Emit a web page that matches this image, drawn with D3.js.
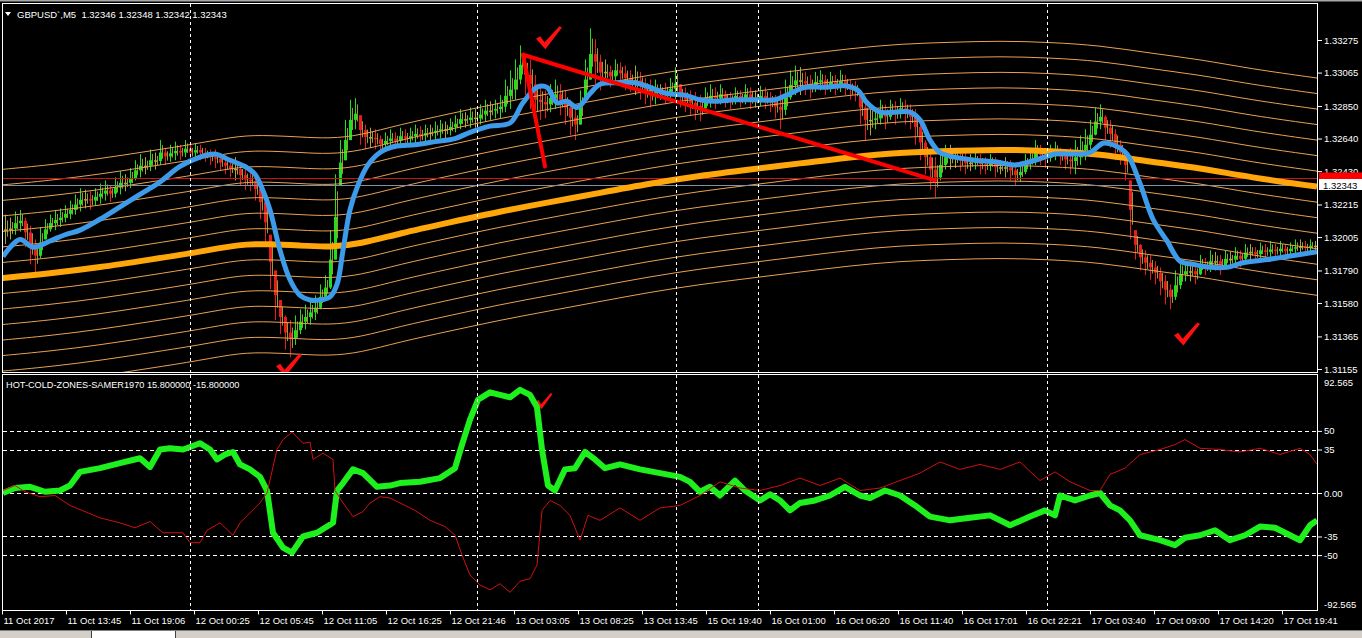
<!DOCTYPE html>
<html><head><meta charset="utf-8">
<script src="https://cdn.jsdelivr.net/npm/d3@7"></script>
<style>
body{margin:0;background:#000;overflow:hidden}
svg{display:block}
text{font-family:"Liberation Sans",Arial,sans-serif}
</style></head>
<body><svg id="c" width="1362" height="638"></svg>
<script>
// ---------- DATA ----------
const symbolTitle = "GBPUSD`,M5  1.32346 1.32348 1.32342 1.32343";
const oscTitle = "HOT-COLD-ZONES-SAMER1970 15.800000 -15.800000";

const timeTickBars = [2,66,130,194,258,322,386,450,514,578,642,706,770,834,898,962,1026,1090,1154,1218,1282];
const timeTickLabels = ["11 Oct 2017","11 Oct 13:45","11 Oct 19:06","12 Oct 00:25","12 Oct 05:45","12 Oct 11:05","12 Oct 16:25","12 Oct 21:46","13 Oct 03:05","13 Oct 08:25","13 Oct 13:45","15 Oct 19:40","16 Oct 01:00","16 Oct 06:20","16 Oct 11:40","16 Oct 17:01","16 Oct 22:21","17 Oct 03:40","17 Oct 09:00","17 Oct 14:20","17 Oct 19:41"];
const daySeparatorBars = [190,477,676,758,1047];

const priceTicks = [1.31155,1.31365,1.31580,1.31790,1.32005,1.32215,1.32430,1.32640,1.32850,1.33065,1.33275];
const oscTicks = [92.565,50,35,0,-35,-50,-92.565];
const oscLevels = [50,35,0,-35,-50];

const bidPrice = 1.32343;
const alertPrice = 1.32387;

// candles sampled every 5 bars starting at bar 5
const candleHigh = [
1.3215,1.3213,1.3217,1.3218,1.3213,1.3208,1.3199,1.3207,1.3212,1.3215,
1.3218,1.3219,1.3221,1.3224,1.3228,1.3232,1.3231,1.3230,1.3232,1.3235,
1.3237,1.3234,1.3239,1.3243,1.3241,1.3245,1.3250,1.3254,1.3252,1.3257,
1.3255,1.3263,1.3258,1.3260,1.3262,1.3260,1.3263,1.3260,1.3261,1.3260,
1.3258,1.3257,1.3257,1.3254,1.3252,1.3250,1.3252,1.3247,1.3244,1.3243,
1.3239,1.3234,1.3224,1.3202,1.3179,1.3160,1.3150,1.3147,1.3150,1.3154,
1.3157,1.3160,1.3163,1.3170,1.3176,1.3205,1.3241,1.3263,1.3276,1.3289,
1.3290,1.3279,1.3273,1.3271,1.3270,1.3266,1.3268,1.3270,1.3268,1.3271,
1.3270,1.3271,1.3273,1.3272,1.3273,1.3273,1.3275,1.3276,1.3275,1.3277,
1.3279,1.3283,1.3281,1.3284,1.3283,1.3286,1.3289,1.3288,1.3289,1.3292,
1.3302,1.3308,1.3315,1.3324,1.3318,1.3315,1.3305,1.3299,1.3295,1.3299,
1.3302,1.3299,1.3295,1.3289,1.3283,1.3295,1.3315,1.3335,1.3328,1.3318,
1.3315,1.3311,1.3315,1.3313,1.3311,1.3308,1.3311,1.3307,1.3303,1.3302,
1.3302,1.3299,1.3300,1.3303,1.3310,1.3299,1.3297,1.3295,1.3294,1.3292,
1.3297,1.3299,1.3297,1.3299,1.3295,1.3294,1.3297,1.3295,1.3299,1.3297,
1.3295,1.3298,1.3297,1.3294,1.3292,1.3295,1.3302,1.3308,1.3311,1.3310,
1.3307,1.3305,1.3307,1.3308,1.3305,1.3307,1.3305,1.3308,1.3305,1.3302,
1.3301,1.3295,1.3289,1.3286,1.3284,1.3289,1.3286,1.3289,1.3288,1.3290,
1.3289,1.3286,1.3283,1.3273,1.3263,1.3257,1.3252,1.3257,1.3260,1.3260,
1.3258,1.3257,1.3255,1.3254,1.3255,1.3254,1.3252,1.3254,1.3252,1.3250,
1.3252,1.3250,1.3247,1.3249,1.3254,1.3257,1.3263,1.3260,1.3258,1.3260,
1.3262,1.3258,1.3257,1.3258,1.3263,1.3266,1.3270,1.3276,1.3284,1.3286,
1.3279,1.3276,1.3270,1.3263,1.3257,1.3237,1.3205,1.3196,1.3192,1.3189,
1.3185,1.3181,1.3176,1.3170,1.3179,1.3186,1.3185,1.3185,1.3183,1.3189,
1.3187,1.3192,1.3191,1.3189,1.3192,1.3191,1.3194,1.3192,1.3196,1.3196,
1.3194,1.3197,1.3196,1.3198,1.3196,1.3198,1.3196,1.3197,1.3199,1.3199,
1.3198,1.3199,1.3198];
const candleLow = [
1.3196,1.3199,1.3202,1.3204,1.3194,1.3183,1.3178,1.3187,1.3199,1.3204,
1.3205,1.3207,1.3210,1.3212,1.3215,1.3217,1.3219,1.3218,1.3221,1.3222,
1.3224,1.3223,1.3226,1.3228,1.3230,1.3232,1.3237,1.3239,1.3241,1.3243,
1.3244,1.3247,1.3247,1.3249,1.3250,1.3250,1.3252,1.3250,1.3252,1.3250,
1.3249,1.3247,1.3245,1.3243,1.3241,1.3239,1.3237,1.3234,1.3231,1.3230,
1.3224,1.3212,1.3196,1.3167,1.3147,1.3138,1.3128,1.3123,1.3131,1.3138,
1.3141,1.3144,1.3147,1.3154,1.3160,1.3167,1.3186,1.3234,1.3250,1.3263,
1.3270,1.3260,1.3257,1.3258,1.3257,1.3255,1.3257,1.3258,1.3257,1.3260,
1.3258,1.3260,1.3261,1.3260,1.3262,1.3263,1.3263,1.3264,1.3264,1.3266,
1.3268,1.3270,1.3271,1.3271,1.3271,1.3273,1.3275,1.3276,1.3277,1.3277,
1.3281,1.3283,1.3289,1.3299,1.3292,1.3283,1.3273,1.3276,1.3277,1.3281,
1.3283,1.3279,1.3273,1.3266,1.3263,1.3273,1.3289,1.3302,1.3299,1.3295,
1.3299,1.3297,1.3301,1.3299,1.3295,1.3294,1.3292,1.3289,1.3286,1.3284,
1.3286,1.3289,1.3286,1.3289,1.3289,1.3284,1.3281,1.3279,1.3276,1.3275,
1.3281,1.3284,1.3283,1.3286,1.3284,1.3283,1.3286,1.3284,1.3286,1.3283,
1.3284,1.3285,1.3283,1.3281,1.3277,1.3270,1.3279,1.3289,1.3292,1.3292,
1.3292,1.3290,1.3294,1.3295,1.3292,1.3294,1.3292,1.3294,1.3292,1.3289,
1.3288,1.3273,1.3263,1.3266,1.3270,1.3273,1.3270,1.3276,1.3273,1.3277,
1.3273,1.3270,1.3260,1.3250,1.3241,1.3231,1.3226,1.3237,1.3244,1.3244,
1.3245,1.3243,1.3241,1.3243,1.3244,1.3241,1.3241,1.3243,1.3239,1.3241,
1.3239,1.3237,1.3234,1.3236,1.3241,1.3244,1.3247,1.3247,1.3245,1.3249,
1.3250,1.3247,1.3244,1.3241,1.3241,1.3247,1.3250,1.3257,1.3266,1.3270,
1.3263,1.3258,1.3250,1.3247,1.3237,1.3199,1.3186,1.3179,1.3176,1.3173,
1.3170,1.3163,1.3157,1.3154,1.3160,1.3167,1.3172,1.3172,1.3170,1.3176,
1.3176,1.3178,1.3179,1.3176,1.3181,1.3181,1.3183,1.3181,1.3185,1.3186,
1.3185,1.3187,1.3186,1.3187,1.3187,1.3188,1.3187,1.3189,1.3189,1.3190,
1.3189,1.3191,1.3191];

// [bar, price]
const fastMA = [[3,1.3188],[20,1.3199],[33,1.3194],[50,1.3198],[65,1.3202],[80,1.3205],[100,1.3212],[120,1.3220],[140,1.3228],[160,1.3236],[180,1.3246],[200,1.3252],[215,1.3254],[230,1.3250],[245,1.3246],[255,1.3241],[262,1.3232],[270,1.3218],[280,1.3192],[290,1.3173],[300,1.3163],[310,1.3160],[320,1.3160],[330,1.3162],[337,1.3170],[343,1.3192],[350,1.3218],[358,1.3234],[368,1.3247],[380,1.3255],[395,1.3259],[415,1.3260],[435,1.3262],[455,1.3264],[470,1.3268],[490,1.3272],[510,1.3274],[523,1.3287],[537,1.3297],[547,1.3297],[557,1.3287],[567,1.3288],[577,1.3284],[590,1.3293],[600,1.3299],[620,1.3300],[635,1.3300],[650,1.3297],[667,1.3293],[685,1.3292],[700,1.3289],[715,1.3288],[735,1.3289],[755,1.3289],[775,1.3289],[790,1.3293],[805,1.3297],[825,1.3297],[845,1.3298],[858,1.3295],[867,1.3287],[880,1.3281],[895,1.3281],[910,1.3281],[920,1.3276],[930,1.3263],[940,1.3255],[955,1.3252],[975,1.3250],[995,1.3249],[1015,1.3247],[1035,1.3250],[1055,1.3254],[1075,1.3254],[1090,1.3255],[1103,1.3261],[1113,1.3260],[1127,1.3254],[1140,1.3235],[1153,1.3212],[1167,1.3198],[1180,1.3185],[1193,1.3183],[1210,1.3181],[1227,1.3181],[1243,1.3184],[1267,1.3186],[1287,1.3188],[1317,1.3191]];
const slowMA = [[0,1.3174],[50,1.3177],[100,1.3181],[150,1.3186],[200,1.3191],[240,1.3196],[270,1.3196],[300,1.3195],[330,1.3194],[360,1.3196],[400,1.3203],[450,1.3210],[500,1.3217],[550,1.3223],[600,1.3229],[650,1.3235],[700,1.3240],[750,1.3244],[800,1.3248],[850,1.3252],[900,1.3255],[950,1.3256],[1000,1.3257],[1050,1.3256],[1100,1.3254],[1150,1.3249],[1200,1.3245],[1250,1.3239],[1317,1.3233]];
const envelopeOffsets = [-0.007,-0.006,-0.005,-0.004,-0.003,-0.002,-0.001,0.001,0.002,0.003,0.004,0.005,0.006,0.007];

const trendLines = [[[523,1.3318],[935,1.3237]],[[523,1.3318],[545,1.3246]]];
const checkMarksPrice = [[549,1.3329],[289,1.3118],[1187,1.3138]];
const checkMarksOsc = [[544,74]];

// [bar, value]
const hotLine = [[3,0],[15,4],[30,5],[45,1],[60,2],[70,6],[80,17],[100,20],[120,24],[140,28],[150,21],[160,35],[170,36],[183,35],[190,37],[200,40],[210,35],[217,27],[225,31],[233,33],[240,23],[250,19],[260,13],[267,2],[273,-32],[283,-44],[292,-48],[303,-35],[317,-32],[327,-27],[333,-24],[337,2],[343,8],[353,19],[363,16],[377,5],[390,6],[400,8],[420,9],[440,12],[455,20],[462,39],[470,59],[478,75],[490,81],[500,79],[510,77],[520,83],[530,79],[537,69],[542,35],[548,6],[555,2],[565,19],[575,20],[585,33],[595,27],[605,20],[620,23],[640,19],[660,16],[680,13],[690,9],[700,1],[710,5],[720,-2],[735,10],[745,2],[760,-6],[770,-1],[780,-6],[790,-14],[800,-8],[815,-6],[830,-2],[845,5],[860,-2],[870,-4],[885,2],[900,-2],[915,-10],[930,-19],[950,-22],[970,-20],[990,-18],[1010,-26],[1030,-19],[1045,-14],[1055,-18],[1060,-2],[1075,-6],[1090,-2],[1100,0],[1110,-10],[1120,-14],[1130,-22],[1140,-34],[1160,-38],[1175,-42],[1185,-36],[1200,-34],[1215,-30],[1230,-38],[1245,-34],[1260,-27],[1275,-28],[1290,-34],[1300,-38],[1310,-26],[1317,-22]];
const coldLine = [[3,2],[15,6],[25,1],[40,-3],[55,-2],[70,-10],[85,-15],[100,-20],[120,-24],[135,-28],[150,-23],[163,-32],[183,-32],[190,-40],[200,-40],[207,-30],[220,-24],[233,-34],[240,-24],[250,-16],[260,-8],[267,0],[277,35],[283,43],[292,49],[303,40],[310,41],[313,27],[323,32],[333,27],[335,2],[343,-8],[353,-19],[363,-15],[370,-8],[380,-3],[390,-4],[400,-8],[415,-14],[430,-22],[445,-27],[455,-34],[462,-50],[470,-66],[480,-74],[490,-78],[500,-73],[510,-80],[520,-71],[530,-69],[537,-58],[542,-14],[550,-6],[560,-10],[570,-18],[580,-38],[588,-18],[600,-22],[620,-12],[640,-22],[660,-12],[680,-10],[700,-2],[720,9],[740,4],[760,2],[780,6],[800,12],[820,6],[840,12],[860,2],[880,4],[900,10],[920,16],[940,25],[960,19],[980,23],[1000,19],[1020,25],[1040,10],[1055,17],[1070,9],[1090,2],[1100,2],[1110,15],[1125,20],[1140,31],[1160,35],[1175,39],[1185,43],[1200,36],[1220,35],[1240,33],[1260,36],[1280,31],[1300,36],[1310,31],[1317,23]];

// ---------- DRAW ----------
const FONT = '"Liberation Sans",Arial,sans-serif';
const svg = d3.select('#c');
svg.append('rect').attr('width',1362).attr('height',638).attr('fill','#000');

const x = d3.scaleLinear().domain([0,1317]).range([0,1317]);
const yP = d3.scaleLinear().domain([1.31155,1.33275]).range([369,40]);
const yO = d3.scaleLinear().domain([-92.565,92.565]).range([608,378]);

const defs = svg.append('defs');
defs.append('clipPath').attr('id','clipTop').append('rect').attr('x',3).attr('y',4).attr('width',1314).attr('height',368);
defs.append('clipPath').attr('id','clipLow').append('rect').attr('x',3).attr('y',375).attr('width',1314).attr('height',235);

const gTop = svg.append('g').attr('clip-path','url(#clipTop)');
const gLow = svg.append('g').attr('clip-path','url(#clipLow)');

// day separators
daySeparatorBars.forEach(b=>{
  [[4,372],[375,610]].forEach(([a,c])=>{
    svg.append('line').attr('x1',x(b)+0.5).attr('x2',x(b)+0.5).attr('y1',a).attr('y2',c)
      .attr('stroke','#fff').attr('stroke-dasharray','3,3');
  });
});

// candles
const mids = candleHigh.map((h,i)=>(h+candleLow[i])/2);
const gC = gTop.append('g');
candleHigh.forEach((h,i)=>{
  const l = candleLow[i];
  const bx = x(5+5*i);
  const open = i ? Math.min(h,Math.max(l,mids[i-1])) : mids[i];
  const close = mids[i];
  const d = close-open;
  const col = d>0.00006 ? '#1FE01F' : (d<-0.00006 ? '#E81C1C' : '#A8A838');
  gC.append('line').attr('x1',bx+0.5).attr('x2',bx+0.5).attr('y1',yP(h)).attr('y2',yP(l))
    .attr('stroke',col).attr('stroke-width',1);
  const y1 = yP(Math.max(open,close)), y2 = yP(Math.min(open,close));
  gC.append('rect').attr('x',bx-1).attr('width',3).attr('y',y1).attr('height',Math.max(1.5,y2-y1)).attr('fill',col);
  gC.append('line').attr('x1',bx+2.5).attr('x2',bx+2.5).attr('y1',yP(h-(h-l)*0.2)).attr('y2',yP(l+(h-l)*0.25))
    .attr('stroke','#9A9A30').attr('stroke-width',1);
});

// envelopes
const lineP = d3.line().x(d=>x(d[0])).y(d=>yP(d[1])).curve(d3.curveBasis);
envelopeOffsets.forEach(o=>{
  gTop.append('path').datum(slowMA.map(d=>[d[0],d[1]+o])).attr('d',lineP)
    .attr('fill','none').attr('stroke','#E9A254').attr('stroke-width',1);
});
// horizontal price lines
gTop.append('line').attr('x1',3).attr('x2',1317).attr('y1',Math.round(yP(alertPrice))+0.5).attr('y2',Math.round(yP(alertPrice))+0.5).attr('stroke','#C81414');
gTop.append('line').attr('x1',3).attr('x2',1317).attr('y1',Math.round(yP(bidPrice))+0.5).attr('y2',Math.round(yP(bidPrice))+0.5).attr('stroke','#8090A0');
// slow MA
gTop.append('path').datum(slowMA).attr('d',lineP).attr('fill','none').attr('stroke','#FFA60A').attr('stroke-width',6);
// fast MA
gTop.append('path').datum(fastMA).attr('d',d3.line().x(d=>x(d[0])).y(d=>yP(d[1])).curve(d3.curveCatmullRom))
  .attr('fill','none').attr('stroke','#3D9BEA').attr('stroke-width',5).attr('stroke-linejoin','round');
// trendlines
trendLines.forEach(t=>{
  gTop.append('line').attr('x1',x(t[0][0])).attr('y1',yP(t[0][1])).attr('x2',x(t[1][0])).attr('y2',yP(t[1][1]))
    .attr('stroke','#FF0000').attr('stroke-width',4).attr('stroke-linecap','round');
});
// check marks
function check(g,cx,cy,w,h){
  const p = [[0,0.55],[0.16,0.44],[0.33,0.7],[0.9,0],[1,0.06],[0.36,1]];
  g.append('path').attr('d','M'+p.map(q=>[(cx-w/2+q[0]*w).toFixed(1),(cy-h/2+q[1]*h).toFixed(1)].join(',')).join('L')+'Z')
    .attr('fill','#FF1010');
}
checkMarksPrice.forEach(c=>check(gTop,x(c[0]),yP(c[1]),26,23));
checkMarksOsc.forEach(c=>check(gLow,x(c[0]),yO(c[1]),17,16));

// lower panel
oscLevels.forEach(v=>{
  gLow.append('line').attr('x1',3).attr('x2',1317).attr('y1',Math.round(yO(v))+0.5).attr('y2',Math.round(yO(v))+0.5)
    .attr('stroke','#fff').attr('stroke-dasharray','4,3');
});
const lineO = d3.line().x(d=>x(d[0])).y(d=>yO(d[1]));
gLow.append('path').datum(hotLine).attr('d',lineO).attr('fill','none').attr('stroke','#1EF01E').attr('stroke-width',6).attr('stroke-linejoin','round');
gLow.append('path').datum(coldLine).attr('d',lineO).attr('fill','none').attr('stroke','#D01010').attr('stroke-width',1);

// borders
svg.append('rect').attr('x',0).attr('y',0).attr('width',1362).attr('height',1.5).attr('fill','#A8A8A8');
svg.append('rect').attr('x',2.5).attr('y',3.5).attr('width',1315).attr('height',369).attr('fill','none').attr('stroke','#fff');
svg.append('rect').attr('x',2.5).attr('y',374.5).attr('width',1315).attr('height',236).attr('fill','none').attr('stroke','#fff');

// axes
function styleAxis(g,size){
  g.select('.domain').remove();
  g.selectAll('line').attr('stroke','#fff');
  g.selectAll('text').attr('fill','#fff').style('font-family',FONT).style('font-size',size);
}
svg.append('g').attr('transform','translate(1318,0)')
  .call(d3.axisRight(yP).tickValues(priceTicks).tickFormat(d3.format('.5f')).tickSize(4).tickPadding(2))
  .call(g=>styleAxis(g,'9.5px'));
const oscAxis = svg.append('g').attr('transform','translate(1318,0)')
  .call(d3.axisRight(yO).tickValues(oscTicks).tickFormat(d=>d===0?'0.00':String(d)).tickSize(4).tickPadding(2))
  .call(g=>styleAxis(g,'9.5px'));
oscAxis.selectAll('.tick').filter(d=>Math.abs(d)>90).select('line').remove();
oscAxis.selectAll('.tick').filter(d=>d>90).select('text').attr('dy','0.75em');
oscAxis.selectAll('.tick').filter(d=>d<-90).select('text').attr('dy','-0.1em');

svg.append('g').attr('transform','translate(0,610.5)')
  .call(d3.axisBottom(x).tickValues(timeTickBars).tickFormat((d,i)=>timeTickLabels[i]).tickSize(4).tickPadding(3))
  .call(g=>styleAxis(g,'9.5px'))
  .call(g=>g.selectAll('text').attr('text-anchor','start').attr('x',1));

// price labels on the right (alert label box mostly hidden behind the bid label)
svg.append('rect').attr('x',1319).attr('y',172.5).attr('width',43).attr('height',7).attr('fill','#FF0000');
svg.append('rect').attr('x',1319).attr('y',179).attr('width',43).attr('height',11).attr('fill','#fff');
svg.append('text').attr('x',1323).attr('y',188.5).text(bidPrice.toFixed(5)).attr('fill','#000').style('font-size','9.5px').style('font-family',FONT);

// titles
svg.append('path').attr('d','M5,12L11,12L8,16Z').attr('fill','#fff');
svg.append('text').attr('x',17).attr('y',18).text(symbolTitle).attr('fill','#fff')
  .style('font-size','9.5px').style('font-family',FONT).style('white-space','pre');
svg.append('text').attr('x',6).attr('y',388).text(oscTitle).attr('fill','#fff')
  .style('font-size','9.2px').style('font-family',FONT);

// bottom tab strip
svg.append('rect').attr('x',0).attr('y',630).attr('width',1362).attr('height',8).attr('fill','#D4D0C8');
svg.append('line').attr('x1',0).attr('x2',1362).attr('y1',630.5).attr('y2',630.5).attr('stroke','#808080');
svg.append('rect').attr('x',92).attr('y',631).attr('width',83).attr('height',7).attr('fill','#fff');
svg.append('line').attr('x1',91.5).attr('x2',91.5).attr('y1',631).attr('y2',638).attr('stroke','#404040');
svg.append('line').attr('x1',175.5).attr('x2',175.5).attr('y1',631).attr('y2',638).attr('stroke','#404040');
</script></body></html>
